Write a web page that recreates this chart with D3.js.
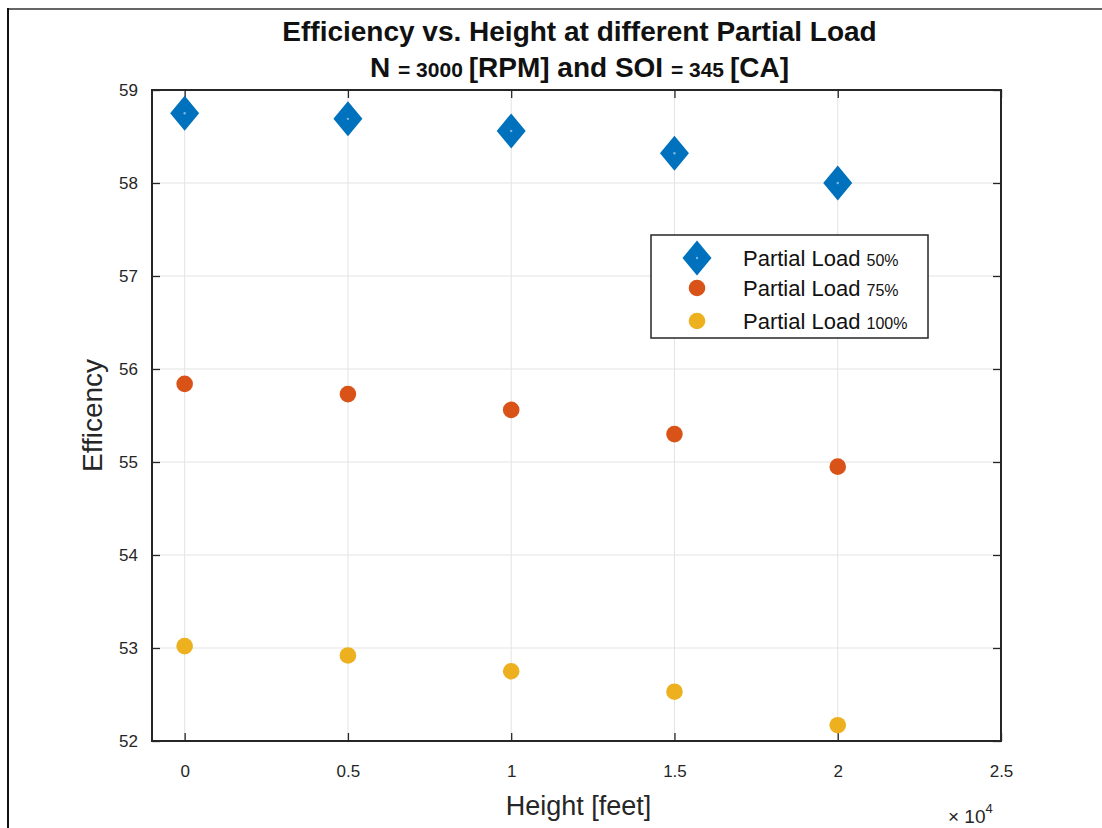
<!DOCTYPE html>
<html>
<head>
<meta charset="utf-8">
<script src="https://cdn.jsdelivr.net/npm/d3@7"></script>
<style>
  html, body { margin: 0; padding: 0; background: #fff; }
  svg { display: block; }
  text { font-family: "Liberation Sans", Arial, Helvetica, sans-serif; }
</style>
</head>
<body>
<svg id="chart" width="1102" height="828"></svg>
<script>
// Heights in feet
const heights = [0, 5000, 10000, 15000, 20000];
// Efficiency at each height, per partial load
const load50 = [58.75, 58.69, 58.56, 58.32, 58.00];
const load75 = [55.84, 55.73, 55.56, 55.30, 54.95];
const load100 = [53.02, 52.92, 52.75, 52.53, 52.17];
const seriesNames = ["50%", "75%", "100%"];
const xTicks = [0, 5000, 10000, 15000, 20000, 25000];
const xTickLabels = ["0", "0.5", "1", "1.5", "2", "2.5"];
const yTicks = [52, 53, 54, 55, 56, 57, 58, 59];

const svg = d3.select("#chart");
const W = 1102, H = 828;
const pLeft = 152, pRight = 1001, pTop = 90, pBottom = 741;

const x = d3.scaleLinear().domain([-1000, 25000]).range([pLeft, pRight]);
const y = d3.scaleLinear().domain([52, 59]).range([pBottom, pTop]);

const axisColor = "#262626";

// outer figure frame
svg.append("line").attr("x1", 8).attr("x2", W).attr("y1", 9).attr("y2", 9)
  .attr("stroke", "#666").attr("stroke-width", 2);
svg.append("line").attr("x1", 8).attr("x2", 8).attr("y1", 8).attr("y2", H)
  .attr("stroke", "#111").attr("stroke-width", 2);

// grid
const grid = svg.append("g").attr("stroke", "#e3e3e3").attr("stroke-width", 1);
grid.selectAll(".gx").data(xTicks.filter(d => d > -1000 && d < 25000)).join("line")
  .attr("x1", d => x(d)).attr("x2", d => x(d)).attr("y1", pTop).attr("y2", pBottom);
grid.selectAll(".gy").data(yTicks.filter(d => d > 52 && d < 59)).join("line")
  .attr("x1", pLeft).attr("x2", pRight).attr("y1", d => y(d)).attr("y2", d => y(d));

// axes (ticks inward, box on)
const tickLen = 8;
const xAxisB = d3.axisBottom(x).tickValues(xTicks).tickSize(-tickLen).tickPadding(24)
  .tickFormat((d, i) => xTickLabels[i]);
const xAxisT = d3.axisTop(x).tickValues(xTicks).tickSize(-tickLen).tickFormat("");
const yAxisL = d3.axisLeft(y).tickValues(yTicks).tickSize(-tickLen).tickPadding(14)
  .tickFormat(d3.format("d"));
const yAxisR = d3.axisRight(y).tickValues(yTicks).tickSize(-tickLen).tickFormat("");

function styleAxis(g) {
  g.select(".domain").remove();
  g.selectAll(".tick line").attr("stroke", axisColor).attr("stroke-width", 1.3);
  g.selectAll(".tick text").attr("fill", axisColor).attr("font-size", 17)
    .attr("font-family", "'Liberation Sans', Arial, sans-serif");
}
svg.append("g").attr("transform", `translate(0,${pBottom})`).call(xAxisB).call(styleAxis);
svg.append("g").attr("transform", `translate(0,${pTop})`).call(xAxisT).call(styleAxis);
svg.append("g").attr("transform", `translate(${pLeft},0)`).call(yAxisL).call(styleAxis);
svg.append("g").attr("transform", `translate(${pRight},0)`).call(yAxisR).call(styleAxis);

svg.append("rect").attr("x", pLeft).attr("y", pTop)
  .attr("width", pRight - pLeft).attr("height", pBottom - pTop)
  .attr("fill", "none").attr("stroke", axisColor).attr("stroke-width", 2);

// markers
const colors = ["#0072BD", "#D95319", "#EDB120"];
const diamond = (cx, cy, w, h) => `M${cx},${cy - h / 2}L${cx + w / 2},${cy}L${cx},${cy + h / 2}L${cx - w / 2},${cy}Z`;
const octagon = d3.symbol().type(d3.symbolCircle).size(Math.PI * 8.3 * 8.3);

const pts = svg.append("g");
pts.selectAll(".d50").data(heights.map((h, i) => [h, load50[i]])).join("path")
  .attr("d", d => diamond(x(d[0]), y(d[1]), 29, 35))
  .attr("fill", colors[0]);
pts.selectAll(".d50c").data(heights.map((h, i) => [h, load50[i]])).join("circle")
  .attr("cx", d => x(d[0])).attr("cy", d => y(d[1])).attr("r", 1.2)
  .attr("fill", "#7fb6e0");
pts.selectAll(".d75").data(heights.map((h, i) => [h, load75[i]])).join("path")
  .attr("transform", d => `translate(${x(d[0])},${y(d[1])})`)
  .attr("d", octagon).attr("fill", colors[1]);
pts.selectAll(".d100").data(heights.map((h, i) => [h, load100[i]])).join("path")
  .attr("transform", d => `translate(${x(d[0])},${y(d[1])})`)
  .attr("d", octagon).attr("fill", colors[2]);

// title
const title = svg.append("g").attr("fill", "#111").attr("font-weight", "bold")
  .attr("text-anchor", "middle");
title.append("text").attr("x", (pLeft + pRight) / 2 + 3).attr("y", 41).attr("font-size", 28)
  .text("Efficiency vs. Height at different Partial Load");
const t2 = title.append("text").attr("x", (pLeft + pRight) / 2 + 3).attr("y", 77).attr("font-size", 28);
t2.append("tspan").text("N ");
t2.append("tspan").attr("font-size", 21).text("= 3000 ");
t2.append("tspan").text("[RPM] and SOI ");
t2.append("tspan").attr("font-size", 21).text("= 345 ");
t2.append("tspan").text("[CA]");

// axis labels
svg.append("text").attr("transform", `translate(102,${(pTop + pBottom) / 2}) rotate(-90)`)
  .attr("text-anchor", "middle").attr("font-size", 28).attr("fill", axisColor)
  .text("Efficency");
svg.append("text").attr("x", (pLeft + pRight) / 2 + 2).attr("y", 815)
  .attr("text-anchor", "middle").attr("font-size", 27).attr("fill", axisColor)
  .text("Height [feet]");
const exp = svg.append("text").attr("x", 948).attr("y", 823).attr("font-size", 19).attr("fill", axisColor);
exp.append("tspan").text("\u00d7 10");
exp.append("tspan").attr("font-size", 13).attr("dy", -10).text("4");

// legend
const lg = svg.append("g");
lg.append("rect").attr("x", 651).attr("y", 235).attr("width", 277).attr("height", 103)
  .attr("fill", "#fff").attr("stroke", axisColor).attr("stroke-width", 1.5);
const rowsY = [258, 288, 321];
lg.append("path").attr("d", diamond(697, rowsY[0], 29, 35)).attr("fill", colors[0]);
lg.append("circle").attr("cx", 697).attr("cy", rowsY[0]).attr("r", 1.2).attr("fill", "#7fb6e0");
lg.append("path").attr("transform", `translate(697,${rowsY[1]})`).attr("d", octagon).attr("fill", colors[1]);
lg.append("path").attr("transform", `translate(697,${rowsY[2]})`).attr("d", octagon).attr("fill", colors[2]);
seriesNames.forEach((s, i) => {
  const t = lg.append("text").attr("x", 743).attr("y", rowsY[i] + 8)
    .attr("font-size", 22).attr("fill", "#111");
  t.append("tspan").text("Partial Load ");
  t.append("tspan").attr("font-size", 16).text(s);
});
</script>
</body>
</html>
